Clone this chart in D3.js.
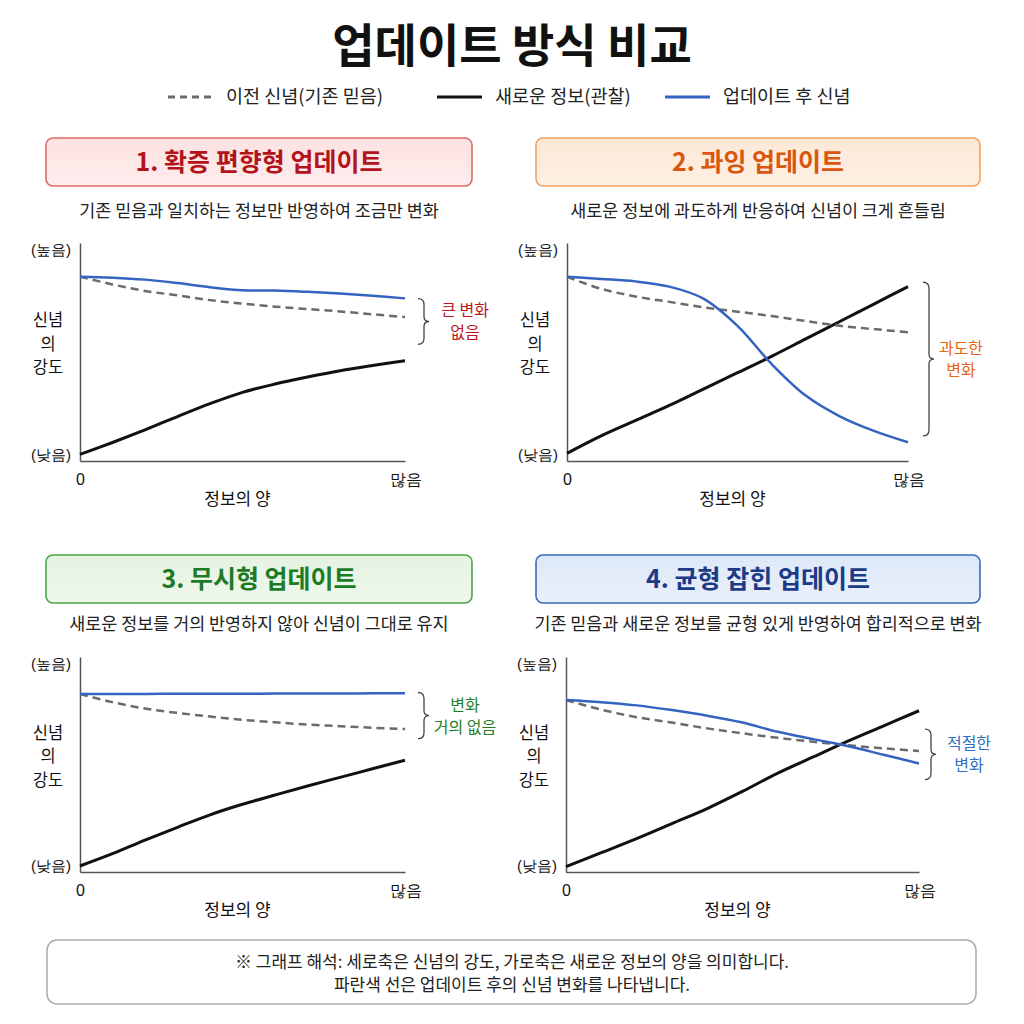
<!DOCTYPE html>
<html>
<head>
<meta charset="utf-8">
<script src="https://cdn.jsdelivr.net/npm/d3@7"></script>
<style>
  body { margin: 0; background: #fff; }
  svg { font-family: "Noto Sans CJK KR", "Noto Sans", sans-serif; }
</style>
</head>
<body>
<script>
// data: x steps and belief strength (0 = 낮음, 100 = 높음)
const steps = [0, 1, 2, 3, 4, 5, 6, 7, 8, 9, 10];
const xTickValues = [0, 10];
const xTickLabels = ["0", "많음"];
const yTickValues = [3, 97];
const yTickLabels = ["(낮음)", "(높음)"];

const legendLabels = ["이전 신념(기존 믿음)", "새로운 정보(관찰)", "업데이트 후 신념"];

const titles = ["1. 확증 편향형 업데이트", "2. 과잉 업데이트", "3. 무시형 업데이트", "4. 균형 잡힌 업데이트"];
const subtitles = [
  "기존 믿음과 일치하는 정보만 반영하여 조금만 변화",
  "새로운 정보에 과도하게 반응하여 신념이 크게 흔들림",
  "새로운 정보를 거의 반영하지 않아 신념이 그대로 유지",
  "기존 믿음과 새로운 정보를 균형 있게 반영하여 합리적으로 변화"
];
const notes = [["큰 변화", "없음"], ["과도한", "변화"], ["변화", "거의 없음"], ["적절한", "변화"]];

const prior1 = [84.5, 81, 78, 76, 73.8, 72.2, 70.8, 69.7, 68.6, 67.3, 66];
const info1 = [3, 8.5, 14.3, 20.4, 26.3, 31.5, 35.3, 38.5, 41.4, 43.8, 46];
const post1 = [84.5, 84.1, 83.2, 81.6, 79.7, 78.3, 78.2, 77.6, 76.8, 75.8, 74.6];

const prior2 = [84.5, 79, 75.5, 73, 70.5, 68.5, 66.5, 64.2, 62, 60.5, 59];
const info2 = [3.5, 11.5, 18.5, 25.5, 33, 40.5, 48, 56, 64, 72, 80];
const post2 = [84.5, 83.5, 82.4, 80, 74.5, 62, 44.5, 30, 20.5, 13.8, 8.6];

const prior3 = [82.8, 79, 76, 74, 72.3, 70.8, 69.6, 68.6, 67.8, 67.1, 66.5];
const info3 = [2.8, 8.5, 14.8, 20.8, 26.6, 31.5, 35.8, 40, 44, 48, 52];
const post3 = [82.8, 82.8, 82.8, 82.9, 82.9, 82.9, 83, 83, 83, 83.1, 83.1];

const prior4 = [80, 75.5, 72, 69.5, 66.8, 64.5, 62.4, 60.6, 58.9, 57.5, 56.3];
const info4 = [2.5, 9, 15.5, 22.5, 29.5, 37.5, 46, 53.5, 61, 68, 75];
const post4 = [80, 79, 77.5, 75.3, 72.7, 69.5, 65.2, 61.8, 58.5, 54.5, 50.5];

// brace extents in data units
const braces = [[74.5, 53.5], [82, 11.5], [83.5, 62], [66.5, 43]];

const priors = [prior1, prior2, prior3, prior4];
const infos = [info1, info2, info3, info4];
const posts = [post1, post2, post3, post4];

// layout
const themes = [
  { fill: "#fde2e2", stroke: "#e06a6a", text: "#b3131b", note: "#c0141c" },
  { fill: "#fde8d6", stroke: "#f0a062", text: "#d9560e", note: "#e8650f" },
  { fill: "#e5f3e2", stroke: "#4aa64a", text: "#1d7a25", note: "#1e7f24" },
  { fill: "#dde8f8", stroke: "#3d68bd", text: "#1c3a86", note: "#2f6fc0" }
];
const panels = [
  { box: [46, 138, 426, 48], sub: 211, x0: 80, x1: 405, yTop: 243, yBot: 461, braceX: 418, noteX: 465 },
  { box: [536, 138, 444, 48], sub: 211, x0: 567, x1: 908, yTop: 243, yBot: 461, braceX: 923, noteX: 961 },
  { box: [46, 555, 426, 48], sub: 624, x0: 80, x1: 405, yTop: 657, yBot: 872, braceX: 418, noteX: 465 },
  { box: [536, 555, 444, 48], sub: 624, x0: 566, x1: 919, yTop: 657, yBot: 872, braceX: 925, noteX: 969 }
];

const priorColor = "#6b6b6b";
const infoColor = "#111";
const postColor = "#3563c0";

const svg = d3.select("body").append("svg")
  .attr("width", 1024)
  .attr("height", 1024);

// gradient fills for the header boxes
const defs = svg.append("defs");
themes.forEach((t, i) => {
  const g = defs.append("linearGradient").attr("id", "hg" + i)
    .attr("x1", 0).attr("y1", 0).attr("x2", 0).attr("y2", 1);
  g.append("stop").attr("offset", "0%").attr("stop-color", t.fill);
  g.append("stop").attr("offset", "100%").attr("stop-color", d3.interpolateRgb(t.fill, "#fff")(0.35));
});

svg.append("text")
  .attr("x", 512).attr("y", 62)
  .attr("text-anchor", "middle")
  .attr("font-size", 46).attr("font-weight", 700)
  .attr("fill", "#111")
  .text("업데이트 방식 비교");

// legend
const legendX = [168, 437, 665];
const legend = svg.append("g");
legendLabels.forEach((label, i) => {
  const line = legend.append("line")
    .attr("x1", legendX[i]).attr("x2", legendX[i] + 45)
    .attr("y1", 97).attr("y2", 97)
    .attr("stroke", [priorColor, infoColor, postColor][i])
    .attr("stroke-width", 3);
  if (i == 0) line.attr("stroke-dasharray", "7,5");
  legend.append("text")
    .attr("x", legendX[i] + 58).attr("y", 103)
    .attr("font-size", 18.5).attr("fill", "#222")
    .text(label);
});

function drawPanel(i) {
  const p = panels[i];
  const t = themes[i];
  const g = svg.append("g");

  g.append("rect")
    .attr("x", p.box[0]).attr("y", p.box[1])
    .attr("width", p.box[2]).attr("height", p.box[3])
    .attr("rx", 7)
    .attr("fill", "url(#hg" + i + ")")
    .attr("stroke", t.stroke).attr("stroke-width", 1.6);

  g.append("text")
    .attr("x", p.box[0] + p.box[2] / 2).attr("y", p.box[1] + 33)
    .attr("text-anchor", "middle")
    .attr("font-size", 25).attr("font-weight", 700)
    .attr("fill", t.text)
    .text(titles[i]);

  g.append("text")
    .attr("x", p.box[0] + p.box[2] / 2).attr("y", p.sub + 6)
    .attr("text-anchor", "middle")
    .attr("font-size", 17.4).attr("fill", "#222")
    .text(subtitles[i]);

  const x = d3.scaleLinear().domain([0, 10]).range([p.x0, p.x1]);
  const y = d3.scaleLinear().domain([0, 100]).range([p.yBot, p.yTop]);

  const xAxis = d3.axisBottom(x)
    .tickValues(xTickValues)
    .tickFormat((d, k) => xTickLabels[k])
    .tickSize(0).tickPadding(13);
  const gx = g.append("g")
    .attr("transform", "translate(0," + p.yBot + ")")
    .call(xAxis);
  gx.select(".domain").attr("stroke", "#555").attr("stroke-width", 1.5);
  gx.selectAll("text").attr("font-size", 16).attr("fill", "#111")
    .style("font-family", "inherit");

  const yAxis = d3.axisLeft(y)
    .tickValues(yTickValues)
    .tickFormat((d, k) => yTickLabels[k])
    .tickSize(0).tickPadding(9);
  const gy = g.append("g")
    .attr("transform", "translate(" + p.x0 + ",0)")
    .call(yAxis);
  gy.select(".domain").attr("stroke", "#555").attr("stroke-width", 1.5);
  gy.selectAll("text").attr("font-size", 15).attr("fill", "#111")
    .style("font-family", "inherit");

  // axis titles
  ["신념", "의", "강도"].forEach((w, k) => {
    g.append("text")
      .attr("x", p.x0 - 32).attr("y", (p.yTop + p.yBot) / 2 - 26 + k * 23.5)
      .attr("text-anchor", "middle")
      .attr("font-size", 16.5).attr("fill", "#111")
      .text(w);
  });
  g.append("text")
    .attr("x", (p.x0 + p.x1) / 2 - 5).attr("y", p.yBot + 44)
    .attr("text-anchor", "middle")
    .attr("font-size", 17).attr("fill", "#111")
    .text("정보의 양");

  const line = d3.line()
    .x((d, k) => x(steps[k]))
    .y(d => y(d))
    .curve(d3.curveCatmullRom.alpha(0.5));

  g.append("path").datum(infos[i])
    .attr("d", line).attr("fill", "none")
    .attr("stroke", infoColor).attr("stroke-width", 3);
  g.append("path").datum(priors[i])
    .attr("d", line).attr("fill", "none")
    .attr("stroke", priorColor).attr("stroke-width", 2.5)
    .attr("stroke-dasharray", "8,5");
  g.append("path").datum(posts[i])
    .attr("d", line).attr("fill", "none")
    .attr("stroke", postColor).attr("stroke-width", 2.5);

  // brace
  const bt = y(braces[i][0]), bb = y(braces[i][1]), bm = (bt + bb) / 2;
  const bx = p.braceX, w = 6;
  g.append("path")
    .attr("d", "M" + bx + "," + bt + " Q" + (bx + w) + "," + bt + " " + (bx + w) + "," + (bt + 6) +
      " L" + (bx + w) + "," + (bm - 5) + " Q" + (bx + w) + "," + bm + " " + (bx + w + 5) + "," + bm +
      " Q" + (bx + w) + "," + bm + " " + (bx + w) + "," + (bm + 5) +
      " L" + (bx + w) + "," + (bb - 6) + " Q" + (bx + w) + "," + bb + " " + bx + "," + bb)
    .attr("fill", "none").attr("stroke", "#444").attr("stroke-width", 1.3);

  notes[i].forEach((n, k) => {
    g.append("text")
      .attr("x", p.noteX).attr("y", bm - 5 + k * 22)
      .attr("text-anchor", "middle")
      .attr("font-size", 16).attr("fill", t.note)
      .text(n);
  });
}

[0, 1, 2, 3].forEach(drawPanel);

// footer
svg.append("rect")
  .attr("x", 47).attr("y", 940)
  .attr("width", 929).attr("height", 64)
  .attr("rx", 10)
  .attr("fill", "#fff").attr("stroke", "#aaa").attr("stroke-width", 1.5);
svg.append("text")
  .attr("x", 512).attr("y", 968)
  .attr("text-anchor", "middle").attr("font-size", 17).attr("fill", "#222")
  .text("※ 그래프 해석: 세로축은 신념의 강도, 가로축은 새로운 정보의 양을 의미합니다.");
svg.append("text")
  .attr("x", 512).attr("y", 991)
  .attr("text-anchor", "middle").attr("font-size", 17).attr("fill", "#222")
  .text("파란색 선은 업데이트 후의 신념 변화를 나타냅니다.");
</script>
</body>
</html>
